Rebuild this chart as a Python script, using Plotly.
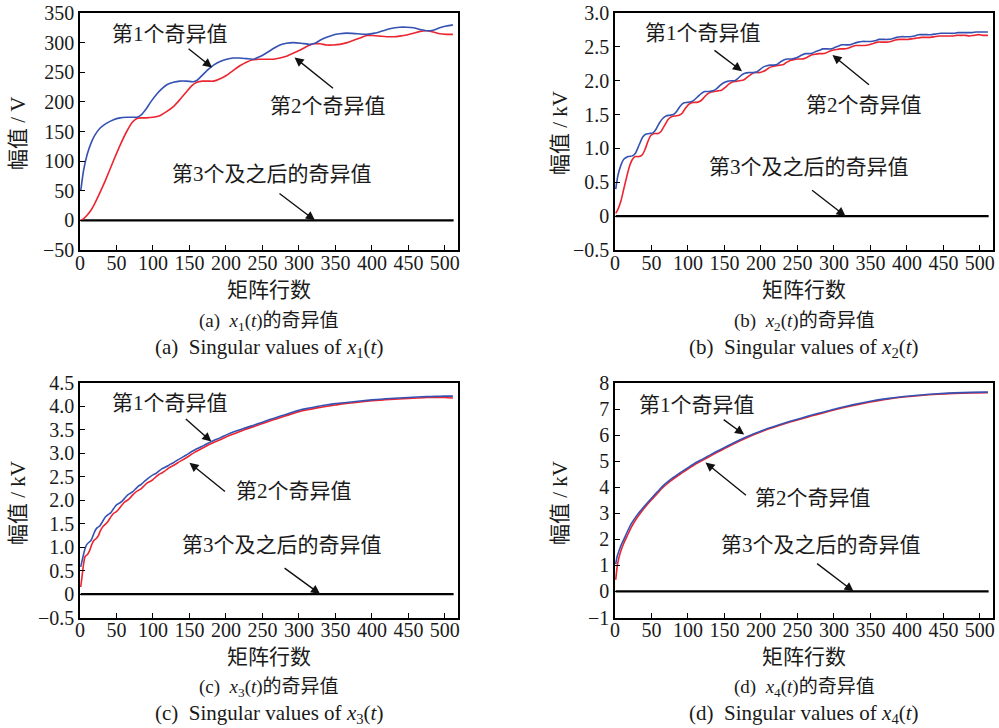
import plotly.graph_objects as go

# ---------------- data ----------------
# (a) x1(t), unit V
a_blue_x = [1, 5, 10, 15, 20, 27, 35, 46, 55, 64, 72, 78, 84, 90, 97, 105, 112, 119, 128, 137, 146, 155, 160, 166,
            175, 183, 192, 201, 210, 219, 228, 237, 246, 256, 265, 274, 283, 292, 303, 315, 322, 329, 338, 347, 356,
            365, 380, 393, 404, 415, 426, 438, 448, 457, 466, 475, 484, 493, 502, 511]
a_blue_y = [50, 85, 112, 130, 143, 155, 163, 170, 173, 174, 174, 174, 178, 187, 200, 213, 222, 229, 233, 235, 235,
            234, 236, 243, 254, 262, 268, 272, 274, 274, 273, 272, 276, 283, 290, 296, 299, 300, 299, 297, 299, 304,
            309, 313, 315, 316, 315, 314, 316, 320, 324, 326, 326, 325, 322, 320, 321, 325, 328, 330]
a_red_x = [1, 5, 10, 15, 20, 27, 35, 46, 55, 64, 72, 78, 84, 91, 100, 110, 118, 128, 137, 146, 153, 160, 168, 176,
           183, 192, 201, 210, 219, 228, 237, 246, 256, 265, 274, 283, 292, 301, 310, 320, 329, 338, 347, 356, 366,
           375, 384, 393, 402, 411, 420, 430, 438, 448, 457, 466, 475, 484, 493, 502, 511]
a_red_y = [0, 3, 9, 17, 28, 46, 68, 101, 127, 150, 166, 172, 173, 173, 174, 177, 183, 192, 204, 217, 227, 233, 235,
           235, 235, 239, 245, 253, 261, 267, 271, 272, 272, 272, 274, 277, 282, 287, 293, 298, 298, 296, 296, 297,
           300, 304, 308, 312, 312, 311, 310, 310, 311, 313, 316, 319, 320, 318, 315, 314, 314]

# (b) x2(t), unit kV
b_blue_x = [1, 4, 8, 12, 18, 24, 28, 33, 38, 42, 47, 52, 56, 61, 66, 70, 75, 80, 84, 89, 94, 99, 104, 108, 113, 118,
            123, 129, 134, 139, 144, 149, 154, 159, 164, 168, 173, 178, 183, 189, 194, 198, 203, 208, 213, 218, 222,
            227, 232, 237, 242, 246, 251, 256, 261, 266, 271, 275, 280, 285, 290, 296, 301, 306, 311, 316, 322, 327,
            333, 339, 345, 350, 356, 362, 368, 374, 380, 386, 392, 398, 404, 410, 416, 422, 428, 434, 440, 446, 452,
            458, 464, 470, 476, 483, 489, 495, 501, 507, 511]
b_blue_y = [0.40, 0.60, 0.75, 0.84, 0.88, 0.89, 0.93, 1.05, 1.17, 1.21, 1.22, 1.23, 1.28, 1.38, 1.45, 1.48, 1.49,
            1.50, 1.54, 1.62, 1.67, 1.68, 1.69, 1.71, 1.76, 1.81, 1.84, 1.84, 1.85, 1.88, 1.93, 1.97, 1.99, 2.00,
            2.00, 2.03, 2.08, 2.11, 2.12, 2.12, 2.13, 2.16, 2.20, 2.22, 2.23, 2.23, 2.24, 2.28, 2.31, 2.32, 2.32,
            2.33, 2.35, 2.38, 2.40, 2.40, 2.41, 2.43, 2.45, 2.47, 2.47, 2.47, 2.49, 2.51, 2.53, 2.53, 2.53, 2.55,
            2.57, 2.58, 2.58, 2.58, 2.59, 2.61, 2.61, 2.61, 2.62, 2.64, 2.65, 2.65, 2.65, 2.66, 2.68, 2.68, 2.68,
            2.68, 2.69, 2.70, 2.70, 2.70, 2.70, 2.71, 2.71, 2.71, 2.71, 2.72, 2.72, 2.72, 2.72]
b_red_x = [1, 4, 8, 12, 16, 20, 24, 28, 33, 37, 41, 45, 49, 54, 59, 63, 68, 73, 78, 83, 88, 92, 97, 102, 107, 112,
           117, 121, 126, 131, 136, 141, 146, 151, 156, 161, 166, 171, 176, 181, 186, 191, 196, 201, 206, 211, 216,
           221, 226, 231, 235, 240, 245, 250, 255, 260, 264, 269, 274, 279, 284, 289, 293, 298, 303, 308, 314, 319,
           324, 330, 336, 342, 348, 354, 360, 366, 372, 378, 384, 390, 396, 402, 408, 414, 420, 426, 432, 438, 444,
           450, 456, 462, 468, 474, 480, 486, 492, 498, 504, 511]
b_red_y = [0.04, 0.10, 0.22, 0.40, 0.58, 0.74, 0.84, 0.88, 0.88, 0.90, 0.98, 1.10, 1.19, 1.22, 1.22, 1.25, 1.34,
           1.43, 1.47, 1.48, 1.49, 1.52, 1.60, 1.66, 1.68, 1.68, 1.70, 1.74, 1.80, 1.83, 1.84, 1.85, 1.86, 1.90,
           1.95, 1.98, 1.99, 2.00, 2.01, 2.05, 2.09, 2.12, 2.12, 2.13, 2.15, 2.19, 2.21, 2.22, 2.23, 2.24, 2.27,
           2.30, 2.31, 2.32, 2.32, 2.33, 2.35, 2.38, 2.39, 2.40, 2.40, 2.41, 2.43, 2.45, 2.46, 2.47, 2.47, 2.48,
           2.50, 2.52, 2.52, 2.52, 2.53, 2.55, 2.57, 2.57, 2.57, 2.58, 2.60, 2.61, 2.61, 2.61, 2.62, 2.63, 2.64,
           2.64, 2.64, 2.65, 2.66, 2.66, 2.66, 2.66, 2.67, 2.67, 2.67, 2.66, 2.67, 2.68, 2.67, 2.67]

# (c) x3(t), unit kV
c_blue_x = [1, 3, 6, 9, 12, 15, 18, 21, 24, 27, 31, 35, 39, 42, 46, 50, 54, 57, 61, 65, 69, 72, 76, 80, 84, 88, 92,
            96, 100, 104, 108, 112, 116, 120, 124, 128, 134, 145, 157, 170, 180, 192, 203, 215, 226, 238, 249, 260,
            270, 280, 290, 300, 312, 325, 337, 350, 362, 375, 387, 400, 412, 425, 437, 450, 462, 475, 487, 500, 511]
c_blue_y = [0.58, 0.72, 0.92, 1.05, 1.10, 1.14, 1.25, 1.36, 1.42, 1.45, 1.55, 1.65, 1.70, 1.73, 1.82, 1.90, 1.94,
            1.97, 2.04, 2.11, 2.15, 2.18, 2.24, 2.30, 2.34, 2.40, 2.45, 2.50, 2.54, 2.57, 2.62, 2.67, 2.70, 2.73,
            2.77, 2.80, 2.86, 2.96, 3.07, 3.17, 3.25, 3.33, 3.41, 3.48, 3.54, 3.60, 3.66, 3.72, 3.77, 3.82, 3.87,
            3.92, 3.96, 4.00, 4.03, 4.06, 4.08, 4.10, 4.12, 4.14, 4.155, 4.17, 4.18, 4.19, 4.20, 4.21, 4.215, 4.22,
            4.22]
c_red_x = [1, 3, 5, 7, 10, 13, 16, 19, 22, 25, 28, 32, 35, 38, 42, 46, 50, 53, 57, 61, 65, 68, 72, 76, 80, 84, 88,
           92, 96, 100, 104, 108, 112, 116, 120, 124, 128, 134, 145, 157, 170, 180, 192, 203, 215, 226, 238, 249,
           260, 270, 280, 290, 300, 312, 325, 337, 350, 362, 375, 387, 400, 412, 425, 437, 450, 462, 475, 487, 500,
           511]
c_red_y = [0.15, 0.40, 0.65, 0.80, 0.84, 0.92, 1.05, 1.14, 1.18, 1.24, 1.35, 1.45, 1.49, 1.54, 1.64, 1.72, 1.76,
           1.81, 1.89, 1.96, 2.00, 2.04, 2.11, 2.17, 2.21, 2.25, 2.31, 2.37, 2.40, 2.44, 2.50, 2.55, 2.58, 2.62,
           2.67, 2.71, 2.74, 2.80, 2.90, 3.02, 3.13, 3.21, 3.29, 3.37, 3.44, 3.51, 3.57, 3.63, 3.69, 3.74, 3.79,
           3.84, 3.89, 3.93, 3.97, 4.00, 4.03, 4.06, 4.08, 4.10, 4.12, 4.135, 4.15, 4.16, 4.17, 4.18, 4.19, 4.19,
           4.19, 4.18]

# (d) x4(t), unit kV
d_blue_x = [1, 3, 5, 8, 12, 17, 23, 30, 36, 42, 50, 58, 65, 75, 87, 100, 110, 120, 133, 147, 163, 179, 195, 210,
            225, 240, 255, 270, 285, 304, 327, 350, 373, 396, 419, 442, 465, 488, 511]
d_blue_y = [1.05, 1.35, 1.52, 1.75, 1.99, 2.30, 2.63, 2.92, 3.13, 3.33, 3.58, 3.82, 4.03, 4.27, 4.51, 4.75, 4.93,
            5.08, 5.28, 5.48, 5.71, 5.92, 6.10, 6.26, 6.40, 6.53, 6.65, 6.77, 6.88, 7.02, 7.17, 7.30, 7.40, 7.48,
            7.54, 7.59, 7.62, 7.64, 7.65]
d_red_x = [1, 3, 5, 8, 12, 17, 23, 30, 36, 42, 50, 58, 65, 75, 87, 100, 110, 120, 133, 147, 163, 179, 195, 210,
           225, 240, 255, 270, 285, 304, 327, 350, 373, 396, 419, 442, 465, 488, 511]
d_red_y = [0.45, 0.95, 1.25, 1.55, 1.85, 2.15, 2.50, 2.82, 3.05, 3.26, 3.52, 3.76, 3.97, 4.21, 4.46, 4.70, 4.88,
           5.03, 5.23, 5.44, 5.67, 5.88, 6.07, 6.23, 6.37, 6.50, 6.62, 6.74, 6.85, 6.99, 7.14, 7.27, 7.38, 7.46,
           7.52, 7.57, 7.60, 7.62, 7.63]

# third and later singular values (all zero)
rest_x = [1, 512]
rest_y = [0, 0]

# ticks
x_ticks = [0, 50, 100, 150, 200, 250, 300, 350, 400, 450, 500]
a_yticks = [-50, 0, 50, 100, 150, 200, 250, 300, 350]
a_ytext = ["−50", "0", "50", "100", "150", "200", "250", "300", "350"]
b_yticks = [-0.5, 0, 0.5, 1.0, 1.5, 2.0, 2.5, 3.0]
b_ytext = ["−0.5", "0", "0.5", "1.0", "1.5", "2.0", "2.5", "3.0"]
c_yticks = [-0.5, 0, 0.5, 1.0, 1.5, 2.0, 2.5, 3.0, 3.5, 4.0, 4.5]
c_ytext = ["−0.5", "0", "0.5", "1.0", "1.5", "2.0", "2.5", "3.0", "3.5", "4.0", "4.5"]
d_yticks = [-1, 0, 1, 2, 3, 4, 5, 6, 7, 8]
d_ytext = ["−1", "0", "1", "2", "3", "4", "5", "6", "7", "8"]

label1 = "第1个奇异值"
label2 = "第2个奇异值"
label3 = "第3个及之后的奇异值"
x_title = "矩阵行数"

# ---------------- figure ----------------
FONT = "Liberation Serif, 'Noto Sans CJK SC', serif"
TXT = "#1a1a1a"
BLUE = "#3552b3"
RED = "#ec2530"
W, H = 999, 728

fig = go.Figure()

panels = [
    dict(k="", xs=(a_blue_x, a_red_x), ys=(a_blue_y, a_red_y), yr=[-50, 350], yt=a_yticks, ytt=a_ytext,
         dom_x=(80, 458), dom_y=(13, 250)),
    dict(k="2", xs=(b_blue_x, b_red_x), ys=(b_blue_y, b_red_y), yr=[-0.5, 3.0], yt=b_yticks, ytt=b_ytext,
         dom_x=(615, 993), dom_y=(13, 250)),
    dict(k="3", xs=(c_blue_x, c_red_x), ys=(c_blue_y, c_red_y), yr=[-0.5, 4.5], yt=c_yticks, ytt=c_ytext,
         dom_x=(80, 458), dom_y=(383, 617.5)),
    dict(k="4", xs=(d_blue_x, d_red_x), ys=(d_blue_y, d_red_y), yr=[-1, 8], yt=d_yticks, ytt=d_ytext,
         dom_x=(615, 993), dom_y=(383, 617.5)),
]

layout = {}
for p in panels:
    k = p["k"]
    xa, ya = "x" + k, "y" + k
    fig.add_trace(go.Scatter(x=rest_x, y=rest_y, xaxis=xa, yaxis=ya, mode="lines",
                             line=dict(color="black", width=2.2), showlegend=False, hoverinfo="skip"))
    fig.add_trace(go.Scatter(x=p["xs"][1], y=p["ys"][1], xaxis=xa, yaxis=ya, mode="lines",
                             line=dict(color=RED, width=1.6, shape="spline", smoothing=0.6), showlegend=False))
    fig.add_trace(go.Scatter(x=p["xs"][0], y=p["ys"][0], xaxis=xa, yaxis=ya, mode="lines",
                             line=dict(color=BLUE, width=1.6, shape="spline", smoothing=0.6), showlegend=False))
    layout["xaxis" + k] = dict(
        domain=[p["dom_x"][0] / W, p["dom_x"][1] / W], range=[0, 518], anchor=ya, automargin=False,
        tickmode="array", tickvals=x_ticks, ticks="inside", ticklen=5, tickwidth=1, tickcolor="black",
        ticklabelstandoff=-6,
        showline=True, linecolor="black", linewidth=1.5, mirror=True, showgrid=False, zeroline=False,
        tickfont=dict(family=FONT, size=20, color=TXT), fixedrange=True)
    layout["yaxis" + k] = dict(
        domain=[1 - p["dom_y"][1] / H, 1 - p["dom_y"][0] / H], range=p["yr"], anchor=xa, automargin=False,
        tickmode="array", tickvals=p["yt"], ticktext=p["ytt"], ticks="inside", ticklen=5, tickwidth=1,
        tickcolor="black", showline=True, linecolor="black", linewidth=1.5, mirror=True, showgrid=False,
        zeroline=False, tickfont=dict(family=FONT, size=20, color=TXT), fixedrange=True)

fig.update_layout(**layout)

ann = []


def txt(xref, yref, x, y, text, size=21, angle=0):
    ann.append(dict(xref=xref, yref=yref, x=x, y=y, text=text, showarrow=False, textangle=angle,
                    xanchor="center", yanchor="middle", font=dict(family=FONT, size=size, color=TXT)))


def arrow(xref, yref, x, y, ax, ay):
    ann.append(dict(xref=xref, yref=yref, x=x, y=y, ax=ax, ay=ay, text="", showarrow=True,
                    arrowhead=2, arrowsize=1.3, arrowwidth=1.4, arrowcolor="#111111", standoff=0))


# in-plot labels and arrows
txt("x", "y", 123, 314, label1)
txt("x", "y", 340, 193, label2)
txt("x", "y", 263, 79, label3)
arrow("x", "y", 181, 258, -25, -20)
arrow("x", "y", 294, 275, 40, 32)
arrow("x", "y", 322, 0, -37, -28)

txt("x2", "y2", 120, 2.70, label1)
txt("x2", "y2", 341, 1.64, label2)
txt("x2", "y2", 266, 0.73, label3)
arrow("x2", "y2", 174, 2.14, -29, -22)
arrow("x2", "y2", 298, 2.38, 38, 31)
arrow("x2", "y2", 316, 0, -35, -27)

txt("x3", "y3", 124, 4.07, label1)
txt("x3", "y3", 293, 2.19, label2)
txt("x3", "y3", 277, 1.05, label3)
arrow("x3", "y3", 180, 3.25, -27, -24)
arrow("x3", "y3", 150, 2.80, 37, 30)
arrow("x3", "y3", 329, 0, -37, -27)

txt("x4", "y4", 113, 7.16, label1)
txt("x4", "y4", 272, 3.59, label2)
txt("x4", "y4", 282, 1.79, label3)
arrow("x4", "y4", 177, 6.02, -22, -16)
arrow("x4", "y4", 124, 4.95, 42, 34)
arrow("x4", "y4", 327, 0, -38, -29)

# axis titles and captions (paper coords from pixel positions)
def P(px, py):
    return px / W, 1 - py / H


for (cx, ty, unit, cap_letter, idx, yt_x, yt_y, cap_y) in [
    (269, 290, "V", "a", "1", 18, 133, 322),
    (804, 290, "kV", "b", "2", 560, 133, 322),
    (269, 657, "kV", "c", "3", 18, 503, 688),
    (804, 657, "kV", "d", "4", 560, 503, 688),
]:
    x0, y0 = P(cx, ty)
    txt("paper", "paper", x0, y0, x_title, size=21)
    x1, y1 = P(yt_x, yt_y)
    txt("paper", "paper", x1, y1, "幅值 / " + unit, size=21, angle=-90)
    x2, y2 = P(cx, cap_y)
    txt("paper", "paper", x2, y2,
        "(%s)  <i>x</i><sub>%s</sub>(<i>t</i>)的奇异值" % (cap_letter, idx), size=19)
    x3, y3 = P(cx, cap_y + 26)
    txt("paper", "paper", x3, y3,
        "(%s)  Singular values of <i>x</i><sub>%s</sub>(<i>t</i>)" % (cap_letter, idx), size=21)

fig.update_layout(annotations=ann, width=W, height=H, margin=dict(l=0, r=0, t=0, b=0),
                  paper_bgcolor="white", plot_bgcolor="white", showlegend=False,
                  font=dict(family=FONT, color=TXT))

# remove the browser's default 8px body margin so the figure sits at the page origin
fig.write_html("out.html", config={"displayModeBar": False},
               post_script="document.body.style.margin='0';document.body.style.overflow='hidden';")
